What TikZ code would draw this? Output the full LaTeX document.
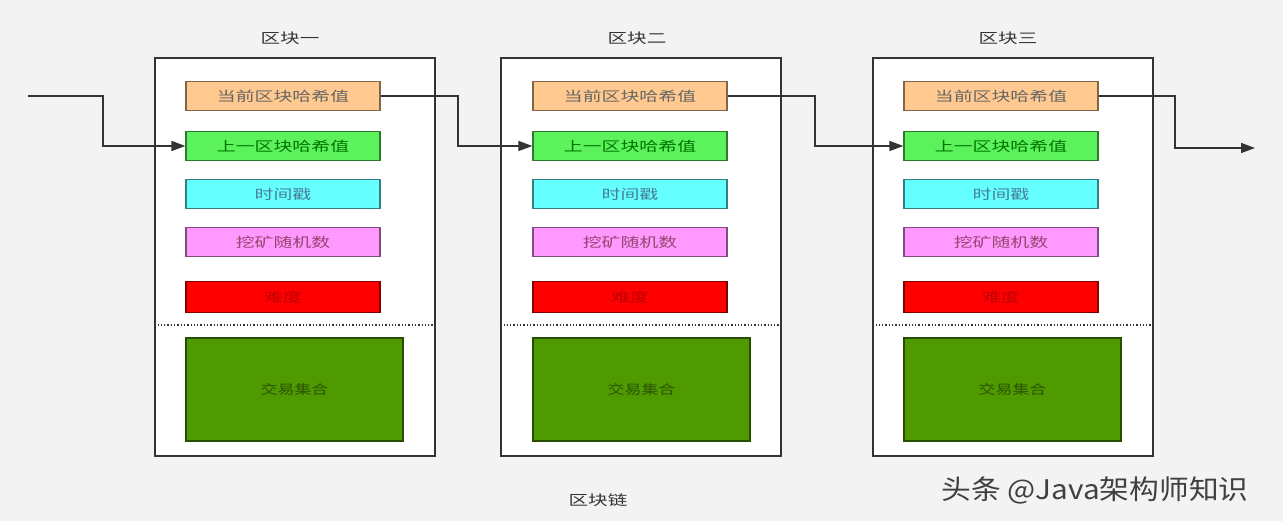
\documentclass[tikz,border=0pt]{standalone}
\usepackage{fontspec}
\setmainfont{Noto Sans CJK SC}
\usetikzlibrary{arrows.meta}
\definecolor{bg}{HTML}{F3F3F3}
\definecolor{cOrange}{HTML}{FFC98F}
\definecolor{cGreen}{HTML}{5CF25C}
\definecolor{cCyan}{HTML}{66FFFF}
\definecolor{cPink}{HTML}{FF99FF}
\definecolor{cRed}{HTML}{FF0000}
\definecolor{cBig}{HTML}{4E9A00}
\definecolor{cLine}{HTML}{333333}
\newcommand{\wide}[1]{\scalebox{1.4}[1]{#1}}
\tikzset{
  blockbox/.style={draw=cLine, line width=1.6pt, fill=white, minimum width=280pt, minimum height=398pt, inner sep=0pt},
  field/.style={draw=#1!50!black, line width=1.3pt, minimum width=194pt, minimum height=29pt, inner sep=0pt, font=\fontsize{13.5}{15}\selectfont},
  bigbox/.style={draw=cBig!50!black, fill=cBig, line width=1.3pt, minimum width=217pt, minimum height=103pt, inner sep=0pt, font=\fontsize{13}{15}\selectfont, text=cBig!55!black},
  title/.style={font=\fontsize{14}{16}\selectfont, text=black!80},
  link/.style={draw=cLine, line width=1.5pt, -{Triangle[length=14pt,width=10pt]}},
  sep/.style={draw=cLine, line width=1.3pt, dotted}
}
\begin{document}
\begin{tikzpicture}[x=1pt,y=-1pt]
\fill[bg] (0,0) rectangle (1283,521);
\useasboundingbox (0,0) rectangle (1283,521);
% blocks
\foreach \n/\bx/\fx/\t in {1/295/283/区块一, 2/641/630/区块二, 3/1013/1001/区块三}{
  \node[blockbox] (blk\n) at (\bx,257) {};
  \node[title] (t\n) at (\fx+7,38) {\wide{\t}};
  \node[field=cOrange, fill=cOrange, text=black!60] (cur\n) at (\fx,96) {\wide{当前区块哈希值}};
  \node[field=cGreen, fill=cGreen, text=black!55!green] (prev\n) at (\fx,146) {\wide{上一区块哈希值}};
  \node[field=cCyan, fill=cCyan, text=black!45!cyan] (ts\n) at (\fx,194) {\wide{时间戳}};
  \node[field=cPink, fill=cPink, text=black!45!magenta] (nonce\n) at (\fx,242) {\wide{挖矿随机数}};
  \node[field=cRed, fill=cRed, text=cRed!75!black, minimum height=31pt] (diff\n) at (\fx,297) {\wide{难度}};
  \draw[sep] (blk\n.west |- 0,325) -- (blk\n.east |- 0,325);
  \node[bigbox] (tx\n) at (\fx+11.5,389.5) {\scalebox{1.3}[1]{交易集合}};
}
% links
\coordinate (start) at (28,96);
\coordinate (end) at (1255,148);
\draw[link] (start) -- (103,96) -- (103,146) -- (prev1.west);
\draw[link] (cur1.east) -- (458,96) -- (458,146) -- (prev2.west);
\draw[link] (cur2.east) -- (815,96) -- (815,146) -- (prev3.west);
\draw[link] (cur3.east) -- (1175,96) -- (1175,148) -- (end);
% footer
\node[title] (chain) at (598,500) {\wide{区块链}};
\node[font=\fontsize{27}{30}\selectfont, text=black!75] (wm) at (1095,490) {\scalebox{1.1}[1]{头条 @Java架构师知识}};
\end{tikzpicture}
\end{document}
